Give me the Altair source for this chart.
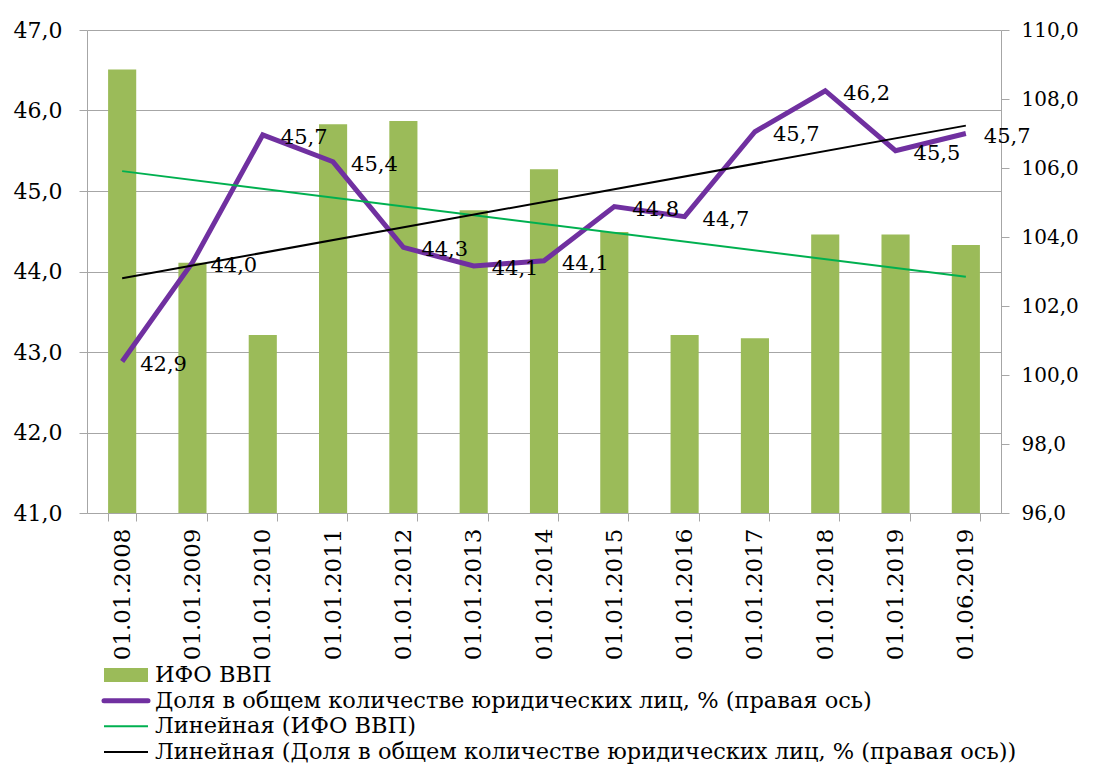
import altair as alt
import pandas as pd

# ---- data ----
dates = ["01.01.2008", "01.01.2009", "01.01.2010", "01.01.2011", "01.01.2012",
         "01.01.2013", "01.01.2014", "01.01.2015", "01.01.2016", "01.01.2017",
         "01.01.2018", "01.01.2019", "01.06.2019"]
ifo_gdp = [46.51, 44.11, 43.21, 45.83, 45.87, 44.76, 45.27, 44.49, 43.21, 43.17,
           44.46, 44.46, 44.33]
share_right = [100.39, 103.26, 106.96, 106.18, 103.70, 103.16, 103.31, 104.88,
               104.59, 107.05, 108.24, 106.50, 107.00]
share_labels = ["42,9", "44,0", "45,7", "45,4", "44,3", "44,1", "44,1", "44,8",
                "44,7", "45,7", "46,2", "45,5", "45,7"]
left_ticks = [41, 42, 43, 44, 45, 46, 47]
right_ticks = [96, 98, 100, 102, 104, 106, 108, 110]
legend_names = [
    "ИФО ВВП",
    "Доля в общем количестве юридических лиц, % (правая ось)",
    "Линейная (ИФО ВВП)",
    "Линейная (Доля в общем количестве юридических лиц, % (правая ось))",
]

# ---- styles ----
BAR = "#9BBB59"
PURPLE = "#7030A0"
GREEN = "#00B050"
BLACK = "#000000"
GRID = "#a6a6a6"
FONT = "DejaVu Serif"
legend_style = [(BAR, 14, "butt"), (PURPLE, 5, "round"), (GREEN, 2, "butt"), (BLACK, 2, "butt")]

df = pd.DataFrame({
    "date": dates,
    "idx": list(range(len(dates))),
    "ifo": ifo_gdp,
    "share": share_right,
    "lbl": share_labels,
})
leg_df = pd.DataFrame({"name": legend_names})

W, H = 914, 483
comma = "replace(format(datum.value, '.1f'), '.', ',')"

x_enc = alt.X(
    "date:N",
    sort=dates,
    scale=alt.Scale(domain=dates, paddingInner=0.6, paddingOuter=0.3),
    axis=alt.Axis(title=None, labelAngle=270, tickBand="extent", tickSize=8,
                  labelPadding=7, labelFontSize=23, grid=False),
)
left_scale = alt.Scale(domain=[41, 47], zero=False, nice=False)
right_scale = alt.Scale(domain=[96, 110], zero=False, nice=False)

bars = alt.Chart(df).mark_bar(color=BAR).encode(
    x=x_enc,
    y=alt.Y("ifo:Q", scale=left_scale,
            axis=alt.Axis(title=None, orient="left", values=left_ticks, labelExpr=comma,
                          grid=True, gridColor=GRID, tickSize=8, labelPadding=17,
                          labelFontSize=22)),
    y2=alt.Y2(datum=41),
)

line = alt.Chart(df).mark_line(color=PURPLE, strokeWidth=5).encode(
    x=x_enc,
    y=alt.Y("share:Q", scale=right_scale,
            axis=alt.Axis(title=None, orient="right", values=right_ticks, labelExpr=comma,
                          grid=False, tickSize=8, labelPadding=12, labelFontSize=20)),
)

green_trend = alt.Chart(df).transform_regression("idx", "ifo").transform_lookup(
    lookup="idx", from_=alt.LookupData(df, "idx", ["date"])
).mark_line(color=GREEN, strokeWidth=2).encode(
    x=x_enc, y=alt.Y("ifo:Q", scale=left_scale, axis=None)
)

black_trend = alt.Chart(df).transform_regression("idx", "share").transform_lookup(
    lookup="idx", from_=alt.LookupData(df, "idx", ["date"])
).mark_line(color=BLACK, strokeWidth=2).encode(
    x=x_enc, y=alt.Y("share:Q", scale=right_scale, axis=None)
)

labels = alt.Chart(df).mark_text(
    align="left", baseline="middle", dx=18, dy=3, fontSize=21, font=FONT, color="black"
).encode(
    x=x_enc, y=alt.Y("share:Q", scale=right_scale, axis=None), text="lbl:N"
)

leg_y = alt.Y("name:N", sort=legend_names,
              scale=alt.Scale(type="point", domain=legend_names, range=[645, 722], padding=0),
              axis=None)

legend_layers = []
for name, (col, sw, cap) in zip(legend_names, legend_style):
    legend_layers.append(
        alt.Chart(leg_df).transform_filter(alt.datum.name == name).mark_rule(
            color=col, strokeWidth=sw, strokeCap=cap
        ).encode(x=alt.value(17), x2=alt.value(61), y=leg_y)
    )

legend_text = alt.Chart(leg_df).mark_text(
    align="left", baseline="middle", fontSize=22.5, font=FONT, color="black"
).encode(x=alt.value(68), y=leg_y, text="name:N")

chart = alt.layer(
    bars, line, green_trend, black_trend, labels, *legend_layers, legend_text
).resolve_scale(y="independent").properties(
    width=W, height=H,
    autosize=alt.AutoSizeParams(type="none"),
    padding={"left": 79, "top": 22, "right": 84, "bottom": 254},
).configure_axis(
    labelFont=FONT, labelColor="black", domainColor=GRID, tickColor=GRID
).configure_view(stroke=None)

chart.save("out.html", embed_options={"renderer": "svg", "actions": False})
